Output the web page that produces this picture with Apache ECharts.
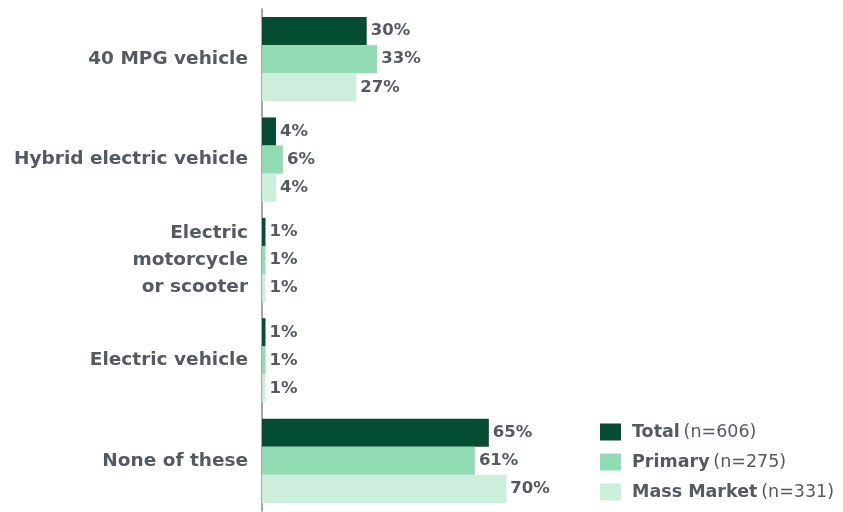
<!DOCTYPE html>
<html>
<head>
<meta charset="utf-8">
<script src="https://cdn.jsdelivr.net/npm/echarts@6/dist/echarts.min.js"></script>
<style>
  html, body { margin: 0; padding: 0; background: #ffffff; }
  #chart { width: 843px; height: 512px; }
</style>
</head>
<body>
<div id="chart"></div>
<script>
// Vehicle types, top to bottom
const categories = [
  '40 MPG vehicle',
  'Hybrid electric vehicle',
  'Electric\nmotorcycle\nor scooter',
  'Electric vehicle',
  'None of these'
];

// Share of respondents (%) per group
const totalValues = [30, 4, 1, 1, 65];
const primaryValues = [33, 6, 1, 1, 61];
const massMarketValues = [27, 4, 1, 1, 70];

// Group names and sample sizes shown in the legend
const groupNames = ['Total', 'Primary', 'Mass Market'];
const groupSizes = ['(n=606)', '(n=275)', '(n=331)'];

const colors = ['#044d33', '#92dcb4', '#cdeedd'];
const textGrey = '#555a60';
const fontFamily = 'DejaVu Sans, Verdana, sans-serif';

const chart = echarts.init(document.getElementById('chart'), null, { renderer: 'canvas' });

function makeSeries(name, values, color) {
  return {
    name: name,
    type: 'bar',
    data: values,
    barGap: '0%',
    barCategoryGap: '16%',
    itemStyle: { color: color },
    label: {
      show: true,
      position: 'right',
      distance: 4,
      formatter: '{c}%',
      color: textGrey,
      fontWeight: 'bold',
      fontSize: 16.5,
      fontFamily: fontFamily
    },
    emphasis: { disabled: true }
  };
}

const sizeByName = {};
groupNames.forEach((n, i) => { sizeByName[n] = groupSizes[i]; });

chart.setOption({
  animation: false,
  backgroundColor: '#ffffff',
  grid: { left: 262, top: 9, width: 349, bottom: 1 },
  legend: {
    data: groupNames,
    orient: 'vertical',
    left: 600,
    top: 423,
    padding: 0,
    itemWidth: 21,
    itemHeight: 17,
    itemGap: 12,
    icon: 'rect',
    formatter: function (name) {
      return '{b|' + name + '} {n|' + sizeByName[name] + '}';
    },
    textStyle: {
      fontFamily: fontFamily,
      rich: {
        b: { fontWeight: 'bold', fontSize: 17.5, color: textGrey, fontFamily: fontFamily, padding: [0, 0, 0, 6] },
        n: { fontSize: 17.5, color: textGrey, fontFamily: fontFamily }
      }
    }
  },
  xAxis: {
    type: 'value',
    min: 0,
    max: 100,
    show: false
  },
  yAxis: {
    type: 'category',
    data: categories,
    inverse: true,
    axisLine: { show: true, lineStyle: { color: '#8a8a8a', width: 1.5 } },
    axisTick: { show: false },
    axisLabel: {
      margin: 14,
      color: textGrey,
      fontWeight: 'bold',
      fontSize: 18.5,
      lineHeight: 27,
      align: 'right',
      fontFamily: fontFamily
    }
  },
  series: [
    makeSeries(groupNames[0], totalValues, colors[0]),
    makeSeries(groupNames[1], primaryValues, colors[1]),
    makeSeries(groupNames[2], massMarketValues, colors[2])
  ]
});
</script>
</body>
</html>
